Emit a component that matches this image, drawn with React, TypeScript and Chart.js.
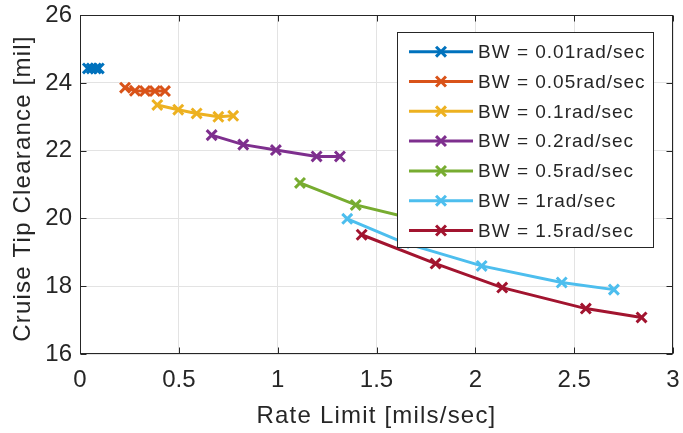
import React, { useEffect, useRef } from "react";
import { Chart, registerables } from "chart.js";

Chart.register(...registerables);

// ---- data ----
const seriesLabels = [
  "BW = 0.01rad/sec",
  "BW = 0.05rad/sec",
  "BW = 0.1rad/sec",
  "BW = 0.2rad/sec",
  "BW = 0.5rad/sec",
  "BW = 1rad/sec",
  "BW = 1.5rad/sec",
];
const seriesColors = ["#0072BD", "#D95319", "#EDB120", "#7E2F8E", "#77AC30", "#4DBEEE", "#A2142F"];

const bw001X = [0.04, 0.06, 0.08, 0.095];
const bw001Y = [24.43, 24.43, 24.43, 24.43];
const bw005X = [0.228, 0.278, 0.329, 0.379, 0.43];
const bw005Y = [23.86, 23.77, 23.76, 23.76, 23.76];
const bw01X = [0.391, 0.497, 0.59, 0.7, 0.775];
const bw01Y = [23.35, 23.21, 23.1, 23.0, 23.03];
const bw02X = [0.666, 0.826, 0.991, 1.197, 1.315];
const bw02Y = [22.46, 22.18, 22.02, 21.83, 21.83];
const bw05X = [1.113, 1.395, 1.7, 2.05];
const bw05Y = [21.05, 20.4, 19.97, 19.65];
const bw1X = [1.352, 1.64, 2.032, 2.437, 2.701];
const bw1Y = [19.99, 19.28, 18.6, 18.11, 17.9];
const bw15X = [1.425, 1.799, 2.136, 2.559, 2.841];
const bw15Y = [19.52, 18.67, 17.96, 17.34, 17.08];

const seriesX = [bw001X, bw005X, bw01X, bw02X, bw05X, bw1X, bw15X];
const seriesY = [bw001Y, bw005Y, bw01Y, bw02Y, bw05Y, bw1Y, bw15Y];

const xTickValues = [0, 0.5, 1, 1.5, 2, 2.5, 3];
const xTickLabels = ["0", "0.5", "1", "1.5", "2", "2.5", "3"];
const yTickValues = [16, 18, 20, 22, 24, 26];
const yTickLabels = ["16", "18", "20", "22", "24", "26"];
const xTitle = "Rate Limit [mils/sec]";
const yTitle = "Cruise Tip Clearance [mil]";

const FONT = "'Liberation Sans', Arial, Helvetica, sans-serif";
const TEXT = "#262626";

const boxPlugin = {
  id: "matlabBox",
  afterDatasetsDraw(chart: any) {
    const { ctx, chartArea } = chart;
    const xs = chart.scales.x;
    const ys = chart.scales.y;
    const L = Math.round(chartArea.left) + 0.5;
    const R = Math.round(chartArea.right) - 0.5;
    const T = Math.round(chartArea.top) + 0.5;
    const B = Math.round(chartArea.bottom) - 0.5;
    ctx.save();
    ctx.strokeStyle = TEXT;
    ctx.lineWidth = 1;
    ctx.strokeRect(L, T, R - L, B - T);
    const tl = 6;
    ctx.beginPath();
    xTickValues.forEach((v) => {
      const px = Math.round(xs.getPixelForValue(v)) + 0.5;
      ctx.moveTo(px, B);
      ctx.lineTo(px, B - tl);
      ctx.moveTo(px, T);
      ctx.lineTo(px, T + tl);
    });
    yTickValues.forEach((v) => {
      const py = Math.round(ys.getPixelForValue(v)) + 0.5;
      ctx.moveTo(L, py);
      ctx.lineTo(L + tl, py);
      ctx.moveTo(R, py);
      ctx.lineTo(R - tl, py);
    });
    ctx.stroke();

    // axis titles
    ctx.fillStyle = TEXT;
    ctx.font = `24px ${FONT}`;
    (ctx as any).letterSpacing = "1.2px";
    ctx.textAlign = "center";
    ctx.textBaseline = "alphabetic";
    ctx.fillText(xTitle, (chartArea.left + chartArea.right) / 2, 423);
    ctx.save();
    ctx.translate(30, (chartArea.top + chartArea.bottom) / 2 + 4);
    ctx.rotate(-Math.PI / 2);
    ctx.fillText(yTitle, 0, 0);
    ctx.restore();

    // legend
    const bx = 397.5, by = 32.5, bw = 256, bh = 215;
    ctx.fillStyle = "#ffffff";
    ctx.fillRect(bx, by, bw, bh);
    ctx.strokeStyle = TEXT;
    ctx.lineWidth = 1;
    ctx.strokeRect(bx, by, bw, bh);
    ctx.font = `19px ${FONT}`;
    (ctx as any).letterSpacing = "1px";
    ctx.textAlign = "left";
    ctx.textBaseline = "middle";
    seriesLabels.forEach((lab, i) => {
      const cy = 51.7 + i * 29.8;
      const col = seriesColors[i];
      ctx.strokeStyle = col;
      ctx.lineWidth = 3;
      ctx.beginPath();
      ctx.moveTo(409, cy);
      ctx.lineTo(473, cy);
      ctx.stroke();
      const r = 7 * Math.cos(Math.PI / 4);
      ctx.beginPath();
      ctx.moveTo(441 - r, cy - r);
      ctx.lineTo(441 + r, cy + r);
      ctx.moveTo(441 - r, cy + r);
      ctx.lineTo(441 + r, cy - r);
      ctx.stroke();
      ctx.fillStyle = TEXT;
      ctx.fillText(lab, 478, cy + 1);
    });
    (ctx as any).letterSpacing = "0px";
    ctx.restore();
  },
};

export default function App() {
  const ref = useRef<HTMLCanvasElement | null>(null);
  useEffect(() => {
    document.body.style.margin = "0";
    if (!ref.current) return;
    Chart.defaults.font.family = FONT;
    const chart = new Chart(ref.current, {
      type: "scatter",
      data: {
        datasets: seriesLabels.map((label, i) => ({
          label,
          data: seriesX[i].map((x, j) => ({ x, y: seriesY[i][j] })),
          showLine: true,
          borderColor: seriesColors[i],
          backgroundColor: seriesColors[i],
          borderWidth: 3,
          pointStyle: "crossRot",
          pointRadius: 7,
          pointBorderWidth: 3,
          pointHoverRadius: 7,
          tension: 0,
        })),
      },
      options: {
        responsive: false,
        animation: false,
        devicePixelRatio: 1,
        layout: { padding: { top: 14, right: 10, left: 0, bottom: 0 } },
        plugins: { legend: { display: false }, tooltip: { enabled: false } },
        scales: {
          x: {
            type: "linear",
            min: 0,
            max: 3,
            afterBuildTicks: (s: any) => {
              s.ticks = xTickValues.map((v) => ({ value: v }));
            },
            afterFit: (s: any) => {
              s.height = 79;
              s.paddingRight = 0;
              s.paddingLeft = 0;
            },
            ticks: {
              color: TEXT,
              font: { size: 24 },
              padding: 12,
              maxRotation: 0,
              callback: (v: any) => {
                const i = xTickValues.indexOf(Number(v));
                return i >= 0 ? xTickLabels[i] : "";
              },
            },
            grid: { color: "#e3e3e3", drawTicks: false, lineWidth: 1 },
            border: { display: false },
          },
          y: {
            type: "linear",
            min: 16,
            max: 26,
            afterBuildTicks: (s: any) => {
              s.ticks = yTickValues.map((v) => ({ value: v }));
            },
            afterFit: (s: any) => {
              s.width = 80;
            },
            ticks: {
              color: TEXT,
              font: { size: 24, lineHeight: 0.6 },
              padding: 8,
              callback: (v: any) => {
                const i = yTickValues.indexOf(Number(v));
                return i >= 0 ? yTickLabels[i] : "";
              },
            },
            grid: { color: "#e3e3e3", drawTicks: false, lineWidth: 1 },
            border: { display: false },
          },
        },
      },
      plugins: [boxPlugin],
    } as any);
    return () => chart.destroy();
  }, []);
  return (
    <div style={{ width: 683, height: 433 }}>
      <canvas ref={ref} width={683} height={433} style={{ display: "block" }} />
    </div>
  );
}
